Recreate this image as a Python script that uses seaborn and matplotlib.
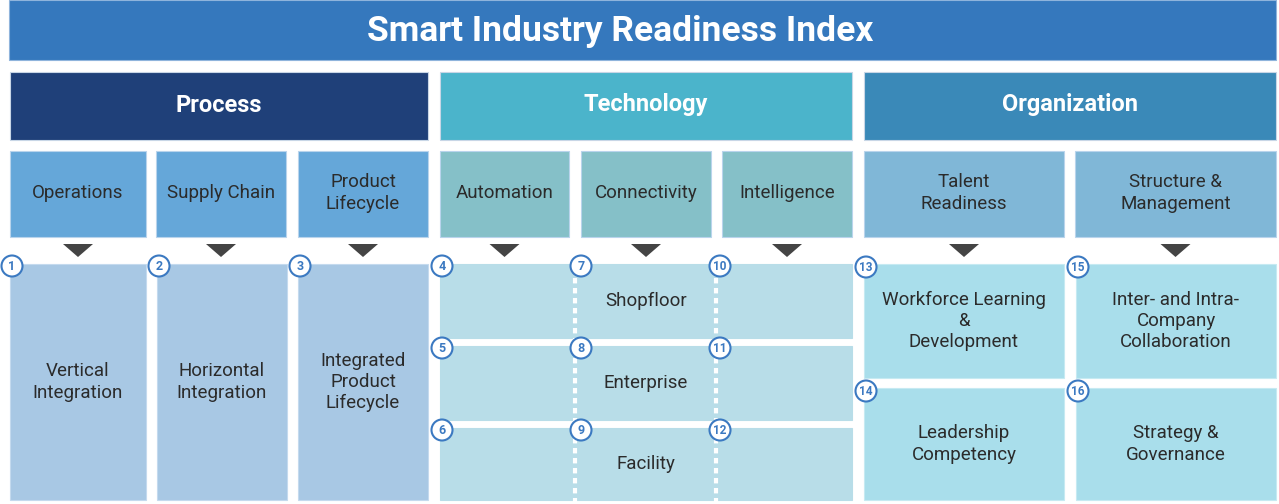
import matplotlib
matplotlib.use("Agg")
import matplotlib.pyplot as plt
from matplotlib.patches import Rectangle, Circle, Polygon
import seaborn as sns

# ---- content ----
title = "Smart Industry Readiness Index"
pillars = ["Process", "Technology", "Organization"]
pillar_colors = ["#1f4079", "#4bb4cb", "#3a89b8"]
building_blocks = ["Operations", "Supply Chain", "Product\nLifecycle",
                   "Automation", "Connectivity", "Intelligence",
                   "Talent\nReadiness", "Structure &\nManagement"]
block_colors = ["#65a7d9"] * 3 + ["#85c0c8"] * 3 + ["#80b7d7"] * 2
process_dims = ["Vertical\nIntegration", "Horizontal\nIntegration",
                "Integrated\nProduct\nLifecycle"]
process_nums = ["1", "2", "3"]
tech_levels = ["Shopfloor", "Enterprise", "Facility"]
tech_nums = [["4", "7", "10"], ["5", "8", "11"], ["6", "9", "12"]]
org_dims = [["Workforce Learning\n&\nDevelopment", "Leadership\nCompetency"],
            ["Inter- and Intra-\nCompany\nCollaboration", "Strategy &\nGovernance"]]
org_nums = [["13", "14"], ["15", "16"]]

sns.set_theme(style="white")
plt.rcParams["font.family"] = ["Roboto", "DejaVu Sans"]

W, H = 1279, 504
fig = plt.figure(figsize=(W / 100, H / 100), dpi=100)
ax = fig.add_axes([0, 0, 1, 1])
ax.set_xlim(0, W)
ax.set_ylim(H, 0)
ax.axis("off")

TXT = "#2b2b2b"
NUMC = "#3b79c1"
FS = 13.5
LS = 1.24


def box(x0, y0, x1, y1, color, ec=None):
    ax.add_patch(Rectangle((x0, y0), x1 - x0, y1 - y0, facecolor=color,
                           edgecolor=ec if ec else color, lw=0.8, zorder=1))


def num(x, y, s):
    ax.add_patch(Circle((x, y), 10.5, facecolor="white", edgecolor=NUMC,
                        lw=1.5, zorder=5))
    ax.text(x, y + 0.5, s, ha="center", va="center", fontsize=8.5 if len(s) > 1 else 9,
            fontweight="bold", color=NUMC, zorder=6)


# title bar
box(9, 0, 1276, 60, "#3578bd", ec="#8fb4dc")
ax.text(620, 32, title, ha="center", va="center", fontsize=25.5,
        fontweight="bold", color="white")

# pillars
pillar_x = [(10, 428), (440, 852), (864, 1276)]
for (x0, x1), name, c in zip(pillar_x, pillars, pillar_colors):
    box(x0, 72, x1, 140, c, ec="#c8d6e6")
    ax.text((x0 + x1) / 2, 105, name, ha="center", va="center", fontsize=17,
            fontweight="bold", color="white")

# building blocks
block_x = [(10, 146), (156, 286), (298, 428),
           (440, 569), (581, 711), (722, 852),
           (864, 1064), (1075, 1276)]
for (x0, x1), name, c in zip(block_x, building_blocks, block_colors):
    box(x0, 151, x1, 237, c, ec="#b9d4ec")
    ax.text((x0 + x1) / 2, 193, name, ha="center", va="center", fontsize=FS,
            color=TXT, linespacing=LS)
    cx = (x0 + x1) / 2
    ax.add_patch(Polygon([(cx - 15, 244), (cx + 15, 244), (cx, 257)],
                         closed=True, facecolor="#444444", edgecolor="none", zorder=2))

# process dimensions
proc_x = [(10, 146), (157, 287), (298, 428)]
for (x0, x1), name, n in zip(proc_x, process_dims, process_nums):
    box(x0, 264, x1, 500, "#a8c8e4", ec="#c4daee")
    ax.text((x0 + x1) / 2, 382, name, ha="center", va="center", fontsize=FS,
            color=TXT, linespacing=LS)
    num(x0 + 2, 266, n)

# technology dimensions
tech_rows = [(264, 338), (346, 420), (428, 500)]
col_x = [442, 581, 720]
for (y0, y1), lvl in zip(tech_rows, tech_levels):
    box(440, y0, 852, y1, "#b8dde8")
    ax.text(646, (y0 + y1) / 2, lvl, ha="center", va="center", fontsize=FS,
            color=TXT)
for dx in (575, 716):
    ax.plot([dx, dx], [278, 502], color="white", lw=3,
            linestyle=(0, (1.3, 1.1)), zorder=3)
for (y0, y1), nums in zip(tech_rows, tech_nums):
    for cx, n in zip(col_x, nums):
        num(cx, y0 + 2, n)

# organization dimensions
org_x = [(864, 1064), (1076, 1276)]
org_rows = [(264, 378), (388, 500)]
for (x0, x1), names, nums in zip(org_x, org_dims, org_nums):
    for (y0, y1), name, n in zip(org_rows, names, nums):
        box(x0, y0, x1, y1, "#a9deeb", ec="#c6eaf2")
        ax.text((x0 + x1) / 2, (y0 + y1) / 2, name, ha="center", va="center",
                fontsize=FS, color=TXT, linespacing=LS)
        num(x0 + 2, y0 + 3, n)

fig.savefig("out.png", dpi=100, facecolor="white")
